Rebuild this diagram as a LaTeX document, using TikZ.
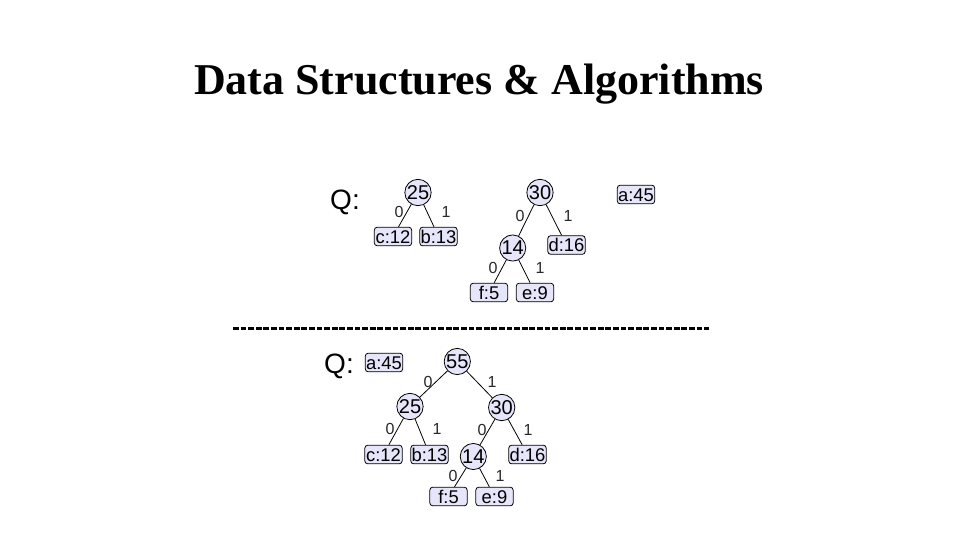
\documentclass[tikz,border=0pt]{standalone}
\usepackage{fontspec}
\setmainfont{Liberation Serif}
\newfontfamily\arialf{Liberation Sans}
\definecolor{nodefill}{RGB}{230,230,250}
\definecolor{lblgray}{RGB}{40,40,40}
\begin{document}
\begin{tikzpicture}[x=0.75pt,y=-0.75pt,
  circ/.style={circle,draw=black,line width=0.6pt,fill=nodefill,minimum size=18.5pt,inner sep=0pt,font=\arialf\fontsize{15}{16}\selectfont},
  leaf/.style={rectangle,rounded corners=2.2pt,draw=black,line width=0.6pt,fill=nodefill,minimum width=28pt,minimum height=14pt,inner xsep=0.6pt,inner ysep=2pt,text height=10pt,text depth=0pt,font=\arialf\fontsize{13.8}{14}\selectfont},
  bit/.style={inner sep=0pt,text=lblgray,font=\arialf\fontsize{12}{13}\selectfont},
  qlbl/.style={inner sep=0pt,font=\arialf\fontsize{21}{22}\selectfont},
  edge/.style={draw=black,line width=0.6pt}]
\useasboundingbox (0,0) rectangle (960,540);
\fill[white] (0,0) rectangle (960,540);
% title
\node[inner sep=0pt,anchor=base,font=\bfseries\fontsize{33}{36}\selectfont] (title) at (479,94) {Data Structures \& Algorithms};

% ---------- top forest ----------
\node[qlbl] (q1) at (345,202) {Q:};
\node[leaf] (c1) at (393,236.5) {c:12};
\node[leaf] (b1) at (438.5,236.5) {b:13};
\node[leaf] (f1) at (489,292.5) {f:5};
\node[leaf] (e1) at (535,292.5) {e:9};
\node[leaf] (d1) at (566.5,245) {d:16};
\node[leaf] (a1) at (636,194.5) {a:45};
\node[circ] (n25a) at (418,192.5) {25};
\node[circ] (n30a) at (540,192.5) {30};
\node[circ] (n14a) at (512.7,248) {14};
\draw[edge] (n25a) -- (c1);
\draw[edge] (n25a) -- (b1);
\draw[edge] (n30a) -- (n14a);
\draw[edge] (n30a) -- (d1);
\draw[edge] (n14a) -- (f1);
\draw[edge] (n14a) -- (e1);
\node[bit] (l1) at (399,212) {0};
\node[bit] (l2) at (446,212) {1};
\node[bit] (l3) at (520,216) {0};
\node[bit] (l4) at (568,216) {1};
\node[bit] (l5) at (493,268) {0};
\node[bit] (l6) at (540,268) {1};

% dashed separator
\coordinate (sepL) at (233,328.3);
\coordinate (sepR) at (709,328.3);
\draw[line width=2.2pt,dash pattern=on 4.4pt off 1.3pt] (sepL) -- (sepR);

% ---------- bottom tree ----------
\node[qlbl] (q2) at (339,366) {Q:};
\node[leaf] (a2) at (384,362.5) {a:45};
\node[circ] (n55) at (457.3,361.5) {55};
\node[circ] (n25b) at (410,406.5) {25};
\node[circ] (n30b) at (501.7,407.5) {30};
\node[leaf] (c2) at (383.5,454.5) {c:12};
\node[leaf] (b2) at (429.5,454.5) {b:13};
\node[circ] (n14b) at (473.3,456.5) {14};
\node[leaf] (d2) at (527.5,454.5) {d:16};
\node[leaf] (f2) at (448.5,496.5) {f:5};
\node[leaf] (e2) at (494.5,496.5) {e:9};
\draw[edge] (n55) -- (n25b);
\draw[edge] (n55) -- (n30b);
\draw[edge] (n25b) -- (c2);
\draw[edge] (n25b) -- (b2);
\draw[edge] (n30b) -- (n14b);
\draw[edge] (n30b) -- (d2);
\draw[edge] (n14b) -- (f2);
\draw[edge] (n14b) -- (e2);
\node[bit] (m1) at (428,382) {0};
\node[bit] (m2) at (492,382) {1};
\node[bit] (m3) at (390,429) {0};
\node[bit] (m4) at (437,429) {1};
\node[bit] (m5) at (482,430) {0};
\node[bit] (m6) at (528,430) {1};
\node[bit] (m7) at (453,476) {0};
\node[bit] (m8) at (500,476) {1};
\end{tikzpicture}
\end{document}
